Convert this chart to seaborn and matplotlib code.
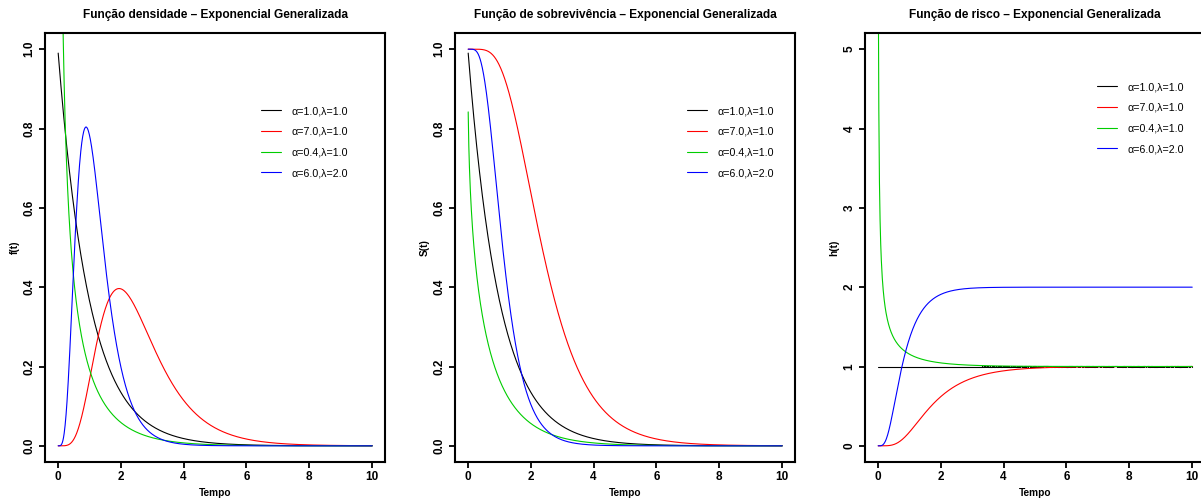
import numpy as np
import pandas as pd
import seaborn as sns
import matplotlib.pyplot as plt

# parameters read from the legends
alphas = [1.0, 7.0, 0.4, 6.0]
lambdas = [1.0, 1.0, 1.0, 2.0]
colors = ["black", "red", "#00CD00", "blue"]
labels = [f"\u03b1={a:.1f},\u03bb={l:.1f}" for a, l in zip(alphas, lambdas)]
tempo = np.arange(1, 1001) / 100.0  # 0.01 .. 10

titles = ["Função densidade – Exponencial Generalizada",
          "Função de sobrevivência – Exponencial Generalizada",
          "Função de risco – Exponencial Generalizada"]
ylabels = ["f(t)", "S(t)", "h(t)"]
yticks = [[0, 0.2, 0.4, 0.6, 0.8, 1.0], [0, 0.2, 0.4, 0.6, 0.8, 1.0], [0, 1, 2, 3, 4, 5]]
yticklabels = [["0.0", "0.2", "0.4", "0.6", "0.8", "1.0"],
               ["0.0", "0.2", "0.4", "0.6", "0.8", "1.0"],
               ["0", "1", "2", "3", "4", "5"]]
xticks = [0, 2, 4, 6, 8, 10]

# generalized exponential: density, survival, hazard
rows = []
for a, l, lab in zip(alphas, lambdas, labels):
    e = np.exp(-l * tempo)
    f = a * l * (1 - e) ** (a - 1) * e
    s = 1 - (1 - e) ** a
    h = f / s
    for t, fv, sv, hv in zip(tempo, f, s, h):
        rows.append((lab, t, fv, sv, hv))
df = pd.DataFrame(rows, columns=["serie", "t", "f", "S", "h"])

sns.set_theme(style="white")
plt.rcParams["font.family"] = ["Liberation Sans", "DejaVu Sans"]
plt.rcParams.update({"text.color": "black", "axes.labelcolor": "black",
                     "xtick.color": "black", "ytick.color": "black"})

fig = plt.figure(figsize=(12.01, 5.01), dpi=100)
W, H = 1201.0, 501.0
palette = dict(zip(labels, colors))
leg_pos = [(0.635, 0.830), (0.683, 0.830), (0.682, 0.886)]

for i, col in enumerate(["f", "S", "h"]):
    left = 45.3 + 410 * i
    ax = fig.add_axes([left / W, 39.3 / H, 339.5 / W, 428.4 / H])
    sns.lineplot(data=df, x="t", y=col, hue="serie", hue_order=labels,
                 palette=palette, estimator=None, sort=False, linewidth=0.8,
                 ax=ax, legend=True)
    ymax = yticks[i][-1]
    ax.set_xlim(-0.4, 10.4)
    ax.set_ylim(-0.04 * ymax, 1.04 * ymax)
    ax.set_xticks(xticks)
    ax.set_xticklabels([str(x) for x in xticks], fontsize=8.5, fontweight="bold")
    ax.set_yticks(yticks[i])
    ax.set_yticklabels(yticklabels[i], fontsize=8.5, fontweight="bold",
                       rotation=90, va="center", ha="right")
    ax.tick_params(axis="both", direction="out", length=4, width=1.3,
                   color="black", labelcolor="black", pad=3, left=True, bottom=True)
    for sp in ax.spines.values():
        sp.set_color("black")
        sp.set_linewidth(1.5)
    ax.set_xlabel("Tempo", fontsize=7.3, fontweight="bold", labelpad=3, color="black")
    ax.set_ylabel(ylabels[i], fontsize=7.3, fontweight="bold", labelpad=3, color="black")
    ax.set_title(titles[i], fontsize=8.6, fontweight="bold", pad=11, color="black")
    handles, labs = ax.get_legend_handles_labels()
    ax.legend(handles, labs, loc="upper left", bbox_to_anchor=leg_pos[i],
              frameon=False, fontsize=7.7, handlelength=1.9, handletextpad=0.93,
              labelspacing=1.0, borderpad=0, borderaxespad=0, labelcolor="black")

fig.savefig("out.png", dpi=100)
